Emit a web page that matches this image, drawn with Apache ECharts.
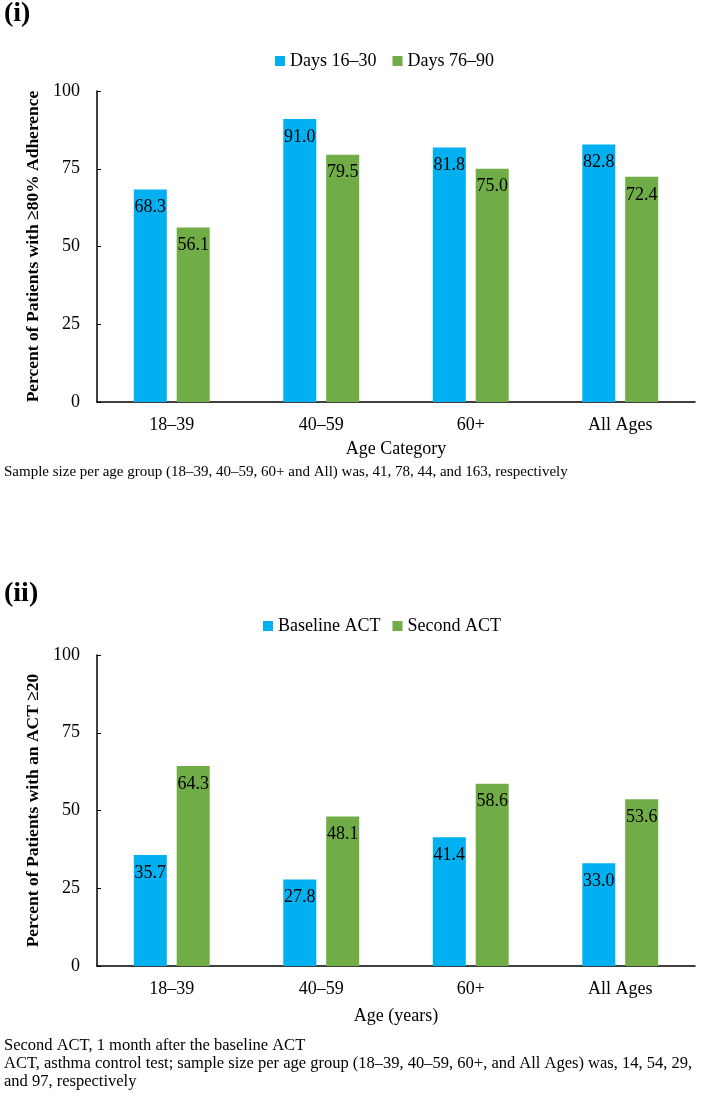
<!DOCTYPE html>
<html>
<head>
<meta charset="utf-8">
<script src="https://cdn.jsdelivr.net/npm/echarts@6/dist/echarts.min.js"></script>
<style>
html,body{margin:0;padding:0;background:#fff;}
#c{width:708px;height:1103px;}
</style>
</head>
<body>
<div id="c"></div>
<script>
const categories = ['18–39', '40–59', '60+', 'All Ages'];
const yTicks = [0, 25, 50, 75, 100];

const chart1Series = ['Days 16–30', 'Days 76–90'];
const days16to30 = [68.3, 91.0, 81.8, 82.8];
const days76to90 = [56.1, 79.5, 75.0, 72.4];

const chart2Series = ['Baseline ACT', 'Second ACT'];
const baselineACT = [35.7, 27.8, 41.4, 33.0];
const secondACT = [64.3, 48.1, 58.6, 53.6];

const FONT = '"Liberation Serif", "Times New Roman", serif';
const BLUE = '#00B0F0';
const GREEN = '#70AD47';

const chart = echarts.init(document.getElementById('c'), null, {renderer: 'canvas'});

function xAxis(gridIndex, name, gap) {
  return {
    type: 'category', gridIndex, data: categories,
    name, nameLocation: 'middle', nameGap: gap,
    nameTextStyle: {fontFamily: FONT, fontSize: 18, color: '#000'},
    axisLine: {lineStyle: {color: '#000', width: 1.5}},
    axisTick: {show: false},
    axisLabel: {fontFamily: FONT, fontSize: 18, color: '#000', margin: 14}
  };
}
function yAxis(gridIndex, name) {
  return {
    type: 'value', gridIndex, min: 0, max: 100, interval: 25,
    name, nameLocation: 'middle', nameGap: 53,
    nameTextStyle: {fontFamily: FONT, fontSize: 17.5, fontWeight: 'bold', color: '#000'},
    axisLine: {show: true, lineStyle: {color: '#000', width: 1.5}},
    axisTick: {show: true, inside: true, length: 4, lineStyle: {color: '#000'}},
    splitLine: {show: false},
    axisLabel: {fontFamily: FONT, fontSize: 18, color: '#000', margin: 17,
      formatter: v => yTicks.includes(v) ? String(v) : ''}
  };
}
function bar(name, data, color, idx) {
  return {
    type: 'bar', name, data, xAxisIndex: idx, yAxisIndex: idx,
    barWidth: 33, barGap: '30%',
    itemStyle: {color},
    label: {show: true, position: 'insideTop', distance: 9,
      fontFamily: FONT, fontSize: 18, color: '#000',
      formatter: p => p.value.toFixed(1)}
  };
}

chart.setOption({
  animation: false,
  backgroundColor: '#fff',
  grid: [
    {left: 97, top: 91, right: 13, height: 311},
    {left: 97, top: 655, right: 13, height: 311}
  ],
  legend: [
    {data: chart1Series, left: 270, top: 47, itemWidth: 10, itemHeight: 10, itemGap: 16,
      textStyle: {fontFamily: FONT, fontSize: 18, color: '#000'}, icon: 'rect'},
    {data: chart2Series, left: 258, top: 612, itemWidth: 10, itemHeight: 10, itemGap: 12,
      textStyle: {fontFamily: FONT, fontSize: 18, color: '#000'}, icon: 'rect'}
  ],
  xAxis: [xAxis(0, 'Age Category', 38), xAxis(1, 'Age (years)', 41)],
  yAxis: [yAxis(0, 'Percent of Patients with ≥80% Adherence'), yAxis(1, 'Percent of Patients with an ACT ≥20')],
  series: [
    bar(chart1Series[0], days16to30, BLUE, 0),
    bar(chart1Series[1], days76to90, GREEN, 0),
    bar(chart2Series[0], baselineACT, BLUE, 1),
    bar(chart2Series[1], secondACT, GREEN, 1)
  ],
  graphic: [
    {type: 'text', left: 4, top: 0, style: {text: '(i)', font: 'bold 28px ' + FONT, fill: '#000'}},
    {type: 'text', left: 4, top: 580, style: {text: '(ii)', font: 'bold 28px ' + FONT, fill: '#000'}},
    {type: 'text', left: 4, top: 465, style: {text: 'Sample size per age group (18–39, 40–59, 60+ and All) was, 41, 78, 44, and 163, respectively', font: '15px ' + FONT, fill: '#000'}},
    {type: 'text', left: 4, top: 1037, style: {text: 'Second ACT, 1 month after the baseline ACT', font: '16.5px ' + FONT, fill: '#000'}},
    {type: 'text', left: 4, top: 1055, style: {text: 'ACT, asthma control test; sample size per age group (18–39, 40–59, 60+, and All Ages) was, 14, 54, 29,', font: '16.5px ' + FONT, fill: '#000'}},
    {type: 'text', left: 4, top: 1073, style: {text: 'and 97, respectively', font: '16.5px ' + FONT, fill: '#000'}}
  ]
});
</script>
</body>
</html>
